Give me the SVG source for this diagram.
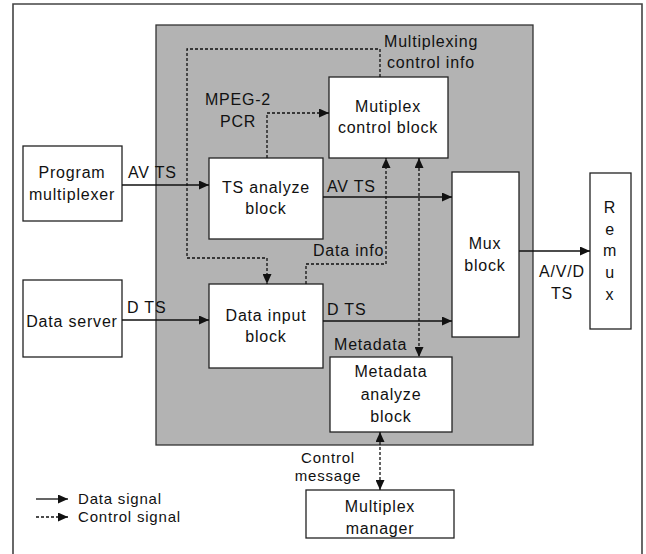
<svg xmlns="http://www.w3.org/2000/svg" width="646" height="554" viewBox="0 0 646 554">
  <style>
    text { font-family: "Liberation Sans", Arial, sans-serif; font-size: 16px; letter-spacing: 0.8px; fill: #111; }
    .c { text-anchor: middle; }
    .tight { font-size: 15px; }
    .box { fill: #fff; stroke: #222; stroke-width: 1.3; }
    .data { fill: none; stroke: #111; stroke-width: 1.3; marker-end: url(#arrow); }
    .ctrl { fill: none; stroke: #111; stroke-width: 1.3; stroke-dasharray: 3 2; }
    .end { marker-end: url(#arrow); }
    .both { marker-start: url(#arrow); marker-end: url(#arrow); }
  </style>
  <defs>
    <marker id="arrow" markerUnits="userSpaceOnUse" markerWidth="11" markerHeight="9" refX="10" refY="4.5" orient="auto-start-reverse">
      <path d="M0,0 L10,4.5 L0,9 z" fill="#111"/>
    </marker>
  </defs>

  <!-- page frame (open at the bottom) -->
  <path d="M13,560 V4 H642 V560" fill="none" stroke="#444" stroke-width="1.6"/>

  <!-- multiplexer unit -->
  <rect id="unit" x="156" y="25" width="377" height="420" fill="#b3b3b3" stroke="#333" stroke-width="1.3"/>

  <g id="program-multiplexer">
    <rect class="box" x="23" y="146" width="99" height="75"/>
    <text class="c" x="72" y="178">Program</text>
    <text class="c" x="72" y="200">multiplexer</text>
  </g>

  <g id="data-server">
    <rect class="box" x="23" y="280" width="99" height="77"/>
    <text class="c" x="72" y="327">Data server</text>
  </g>

  <g id="mux-control">
    <rect class="box" x="329" y="77" width="119" height="81"/>
    <text class="c" x="388" y="112">Mutiplex</text>
    <text class="c" x="388" y="133">control block</text>
  </g>

  <g id="ts-analyze">
    <rect class="box" x="209" y="158" width="114" height="81"/>
    <text class="c" x="266" y="193">TS analyze</text>
    <text class="c" x="266" y="214">block</text>
  </g>

  <g id="data-input">
    <rect class="box" x="209" y="284" width="114" height="84"/>
    <text class="c" x="266" y="321">Data input</text>
    <text class="c" x="266" y="342">block</text>
  </g>

  <g id="mux-block">
    <rect class="box" x="452" y="172" width="67" height="165"/>
    <text class="c" x="485" y="249">Mux</text>
    <text class="c" x="485" y="271">block</text>
  </g>

  <g id="remux">
    <rect class="box" x="590" y="173" width="41" height="156"/>
    <text class="c" x="610" y="213">R</text>
    <text class="c" x="610" y="235">e</text>
    <text class="c" x="610" y="256">m</text>
    <text class="c" x="610" y="278">u</text>
    <text class="c" x="610" y="300">x</text>
  </g>

  <g id="metadata-analyze">
    <rect class="box" x="330" y="357" width="122" height="75"/>
    <text class="c" x="391" y="377">Metadata</text>
    <text class="c" x="391" y="400">analyze</text>
    <text class="c" x="391" y="422">block</text>
  </g>

  <g id="multiplex-manager">
    <rect class="box" x="306" y="490" width="148" height="48"/>
    <text class="c" x="380" y="512">Multiplex</text>
    <text class="c" x="380" y="534">manager</text>
  </g>

  <g id="connectors">
    <!-- data signals -->
    <line class="data" x1="122" y1="185" x2="209" y2="185"/>
    <line class="data" x1="122" y1="320" x2="209" y2="320"/>
    <line class="data" x1="323" y1="197" x2="452" y2="197"/>
    <line class="data" x1="323" y1="321" x2="452" y2="321"/>
    <line class="data" x1="519" y1="251" x2="590" y2="251"/>

    <!-- control signals -->
    <path class="ctrl end" d="M267,158 V113 H329"/>
    <path class="ctrl end" d="M380,77 V49 H187 V258 H267 V284"/>
    <path class="ctrl end" d="M306,284 V264 H386 V158"/>
    <line class="ctrl both" x1="419" y1="158" x2="419" y2="357"/>
    <line class="ctrl both" x1="380" y1="432" x2="380" y2="490"/>

    <!-- connector labels -->
    <text x="128" y="178">AV TS</text>
    <text x="127" y="313">D TS</text>
    <text x="327" y="192">AV TS</text>
    <text x="327" y="315">D TS</text>
    <text class="c" x="562" y="277">A/V/D</text>
    <text class="c" x="562" y="299">TS</text>
    <text class="c" x="238" y="105">MPEG-2</text>
    <text class="c" x="238" y="127">PCR</text>
    <text x="384" y="47">Multiplexing</text>
    <text x="387" y="68">control info</text>
    <text x="313" y="256">Data info</text>
    <text x="334" y="350">Metadata</text>
    <text class="c tight" x="328" y="463">Control</text>
    <text class="c tight" x="328" y="481">message</text>
  </g>

  <g id="legend">
    <line class="data" x1="36" y1="499" x2="68" y2="499"/>
    <text class="tight" x="78" y="504">Data signal</text>
    <line class="ctrl end" x1="36" y1="517" x2="68" y2="517"/>
    <text class="tight" x="78" y="522">Control signal</text>
  </g>
</svg>
